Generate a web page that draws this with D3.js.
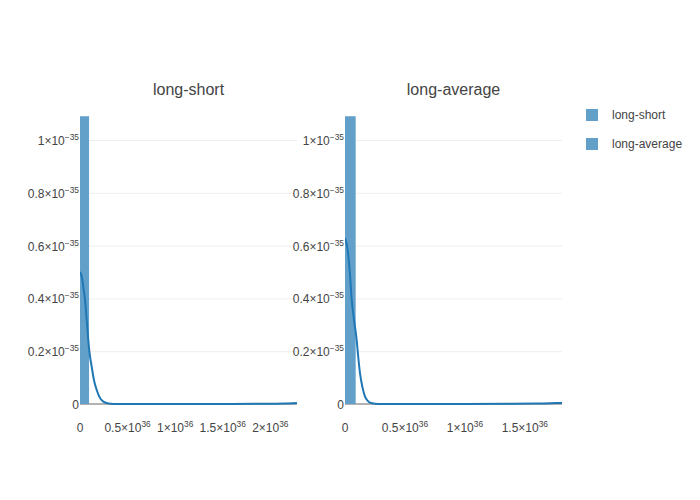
<!DOCTYPE html>
<html><head><meta charset="utf-8">
<script src="https://cdn.jsdelivr.net/npm/d3@7"></script>
<style>body{margin:0;background:#fff}</style>
</head><body>
<svg id="c" width="700" height="500"></svg>
<script>
// ---- data (x in units of 1e36, density in units of 1e-35) ----
const seriesNames = ["long-short", "long-average"];

const shortBinStart = [0, 2.19];
const shortBinEnd   = [0.095, 2.28];
const shortDensity  = [1.09, 0.004];
const shortKdeX = [0, 0.02, 0.04, 0.053, 0.07, 0.087, 0.10, 0.123, 0.15, 0.176, 0.20, 0.245, 0.3, 0.4, 0.8, 1.2, 1.6, 2.0, 2.15, 2.28];
const shortKdeY = [0.50, 0.48, 0.43, 0.394, 0.32, 0.242, 0.195, 0.141, 0.085, 0.053, 0.03, 0.009, 0.002, 0, 0, 0, 0, 0.001, 0.002, 0.004];

const avgBinStart = [0, 1.72];
const avgBinEnd   = [0.089, 1.81];
const avgDensity  = [1.09, 0.004];
const avgKdeX = [0, 0.02, 0.04, 0.056, 0.075, 0.0975, 0.11, 0.125, 0.145, 0.167, 0.19, 0.208, 0.25, 0.3, 0.6, 1.0, 1.4, 1.6, 1.72, 1.81];
const avgKdeY = [0.628, 0.59, 0.50, 0.394, 0.32, 0.242, 0.18, 0.117, 0.065, 0.028, 0.012, 0.005, 0.001, 0, 0, 0, 0.001, 0.002, 0.003, 0.004];

const xMaxShort = 2.28, xMaxAvg = 1.81, yMax = 1.0909;

const xTickValsShort = [0, 0.5, 1, 1.5, 2];
const xTickMainShort = ["0", "0.5×10", "1×10", "1.5×10", "2×10"];
const xTickSupShort  = ["", "36", "36", "36", "36"];
const xTickValsAvg = [0, 0.5, 1, 1.5];
const xTickMainAvg = ["0", "0.5×10", "1×10", "1.5×10"];
const xTickSupAvg  = ["", "36", "36", "36"];
const yTickVals = [0, 0.2, 0.4, 0.6, 0.8, 1];
const yTickMain = ["0", "0.2×10", "0.4×10", "0.6×10", "0.8×10", "1×10"];
const yTickSup  = ["", "−35", "−35", "−35", "−35", "−35"];

// ---- drawing ----
const svg = d3.select("#c");
const FONT = "'Liberation Sans', Arial, sans-serif";
const barColor = "rgb(98,160,202)";
const lineColor = "#1f77b4";
const plotTop = 116, plotBottom = 404;

function label(g, x, y, main, sup, anchor) {
  const t = g.append("text").attr("x", x).attr("y", y)
    .attr("text-anchor", anchor).attr("font-family", FONT)
    .attr("font-size", 12).attr("fill", "#444");
  t.append("tspan").text(main);
  if (sup) t.append("tspan").attr("font-size", 8.4).attr("dy", -5).text(sup);
}

function panel(idx, left, right, xMax, binS, binE, dens, kx, ky, xtv, xtm, xts) {
  const x = d3.scaleLinear().domain([0, xMax]).range([left, right]);
  const y = d3.scaleLinear().domain([0, yMax]).range([plotBottom, plotTop]);
  const g = svg.append("g");
  const id = "clip" + idx;
  svg.append("clipPath").attr("id", id).append("rect")
    .attr("x", left).attr("y", plotTop).attr("width", right - left).attr("height", plotBottom - plotTop + 2);

  // grid
  const grid = g.append("g").attr("transform", `translate(${left},0)`)
    .call(d3.axisLeft(y).tickValues(yTickVals.filter(v => v > 0)).tickSize(-(right - left)).tickFormat(""));
  grid.select(".domain").remove();
  grid.selectAll("line").attr("stroke", "#eee").attr("stroke-width", 1);

  // zero line
  g.append("line").attr("x1", left).attr("x2", right).attr("y1", y(0)).attr("y2", y(0))
    .attr("stroke", "#999").attr("stroke-width", 1.5);

  // bars
  const data = binS.map((s, i) => ({s, e: binE[i], v: dens[i]}));
  g.append("g").attr("clip-path", `url(#${id})`).selectAll("rect").data(data).join("rect")
    .attr("x", d => x(d.s)).attr("width", d => Math.max(0, x(d.e) - x(d.s)))
    .attr("y", d => y(d.v)).attr("height", d => y(0) - y(d.v))
    .attr("fill", barColor);

  // kde
  const pts = kx.map((v, i) => [v, ky[i]]);
  g.append("path").datum(pts).attr("clip-path", `url(#${id})`)
    .attr("d", d3.line().x(d => x(d[0])).y(d => y(d[1])).curve(d3.curveMonotoneX))
    .attr("fill", "none").attr("stroke", lineColor).attr("stroke-width", 2);

  // y tick labels
  yTickVals.forEach((v, i) => label(g, left - 1, y(v) + 5, yTickMain[i], yTickSup[i], "end"));
  // x tick labels
  xtv.forEach((v, i) => label(g, x(v), 432, xtm[i], xts[i], "middle"));

  // title
  g.append("text").attr("x", (left + right) / 2).attr("y", 94.5).attr("text-anchor", "middle")
    .attr("font-family", FONT).attr("font-size", 16).attr("fill", "#444").text(seriesNames[idx]);
}

panel(0, 80, 297, xMaxShort, shortBinStart, shortBinEnd, shortDensity, shortKdeX, shortKdeY,
      xTickValsShort, xTickMainShort, xTickSupShort);
panel(1, 345, 562, xMaxAvg, avgBinStart, avgBinEnd, avgDensity, avgKdeX, avgKdeY,
      xTickValsAvg, xTickMainAvg, xTickSupAvg);

// legend
const lg = svg.append("g");
seriesNames.forEach((n, i) => {
  lg.append("rect").attr("x", 586).attr("y", 109 + i * 29).attr("width", 12).attr("height", 12).attr("fill", barColor);
  lg.append("text").attr("x", 612).attr("y", 119 + i * 29).attr("font-family", FONT)
    .attr("font-size", 12).attr("fill", "#444").text(n);
});
</script>
</body></html>
